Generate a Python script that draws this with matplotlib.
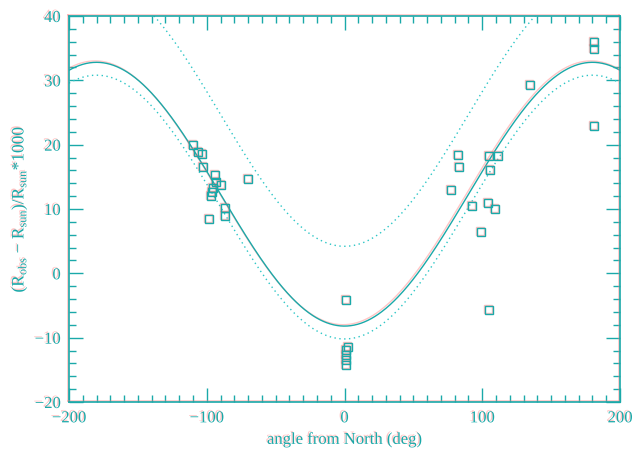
import numpy as np
import matplotlib.pyplot as plt
import matplotlib.patheffects as pe

# measured points (angle in deg, (Robs-Rsun)/Rsun*1000)
angle = [-109.8, -106.1, -103.2, -103.0, -93.8, -93.5, -89.9, -95.2, -96.4, -97.1,
         -87.0, -87.0, -98.6, -70.0,
         0.9, 2.8, 0.9, 0.9, 0.9, 0.9,
         82.4, 83.1, 77.5, 104.7, 111.2, 105.4, 92.6, 104.0, 109.0, 98.9, 105.1,
         134.7, 181.1, 181.1, 181.1]
deviation = [19.9, 18.9, 18.6, 16.6, 15.3, 14.2, 13.7, 13.2, 12.7, 12.0,
             10.1, 8.9, 8.4, 14.6,
             -4.2, -11.5, -11.9, -12.7, -13.4, -14.2,
             18.4, 16.5, 13.0, 18.2, 18.2, 16.0, 10.5, 11.0, 10.0, 6.4, -5.7,
             29.3, 36.0, 34.9, 22.9]

# fitted model curves: offset - amplitude*cos(angle)
fit_offset = 12.3
fit_amp = 20.5
low_offset = 10.3
high_offset = 24.7

teal = '#1aa9a9'
pink = '#ff8080'
text_fx = [pe.withSimplePatchShadow(offset=(-1, 1), shadow_rgbFace=pink, alpha=0.45, rho=1)]
line_fx = [pe.SimpleLineShadow(offset=(-1, 1), shadow_color=pink, alpha=0.45, rho=1), pe.Normal()]

plt.rcParams['font.family'] = 'Liberation Serif'
plt.rcParams['mathtext.fontset'] = 'custom'
plt.rcParams['mathtext.rm'] = 'Liberation Serif'

fig = plt.figure(figsize=(6.35, 4.52), dpi=100)
ax = fig.add_axes([0.1087, 0.1084, 0.8677, 0.854])

th = np.linspace(-200, 200, 801)
c = np.cos(np.radians(th))
ax.plot(th, fit_offset - fit_amp * c, color=teal, lw=1.0, path_effects=line_fx)
ax.plot(th, low_offset - fit_amp * c, color='#2cc6c6', lw=1.0, ls=(0, (1, 2.5)))
ax.plot(th, high_offset - fit_amp * c, color='#2cc6c6', lw=1.0, ls=(0, (1, 2.5)))

ax.plot(np.array(angle) - 0.7, np.array(deviation) + 0.15, 's', ms=6, mfc='none',
        mec='#f07070', mew=1.0, alpha=0.45)
ax.plot(angle, deviation, 's', ms=6, mfc='none', mec=teal, mew=1.0)

ax.set_xlim(-200, 200)
ax.set_ylim(-20, 40)
ax.set_xticks([-200, -100, 0, 100, 200])
ax.set_yticks(range(-20, 41, 10))
ax.set_xticks(np.arange(-200, 201, 10), minor=True)
ax.set_yticks(np.arange(-20, 41, 2), minor=True)
ax.set_xticklabels(['\u2212200', '\u2212100', '0', '100', '200'])
ax.set_yticklabels(['\u221220', '\u221210', '0', '10', '20', '30', '40'])
ax.tick_params(which='both', direction='in', top=True, right=True, color=teal,
               labelcolor=teal, labelsize=12)
ax.tick_params(which='major', length=10, width=1, pad=6)
ax.tick_params(which='minor', length=5, width=1)
for s in ax.spines.values():
    s.set_color(teal)
    s.set_linewidth(1.2)
    s.set_path_effects(line_fx)
for lab in ax.get_xticklabels() + ax.get_yticklabels():
    lab.set_path_effects(text_fx)

ax.set_xlabel('angle from North (deg)', color=teal, fontsize=12, path_effects=text_fx)
ax.set_ylabel(r'(R$_{\rm obs}$ $-$ R$_{\rm sun}$)/R$_{\rm sun}$*1000', color=teal,
              fontsize=12.5, path_effects=text_fx)

fig.savefig('out.png', dpi=100)
